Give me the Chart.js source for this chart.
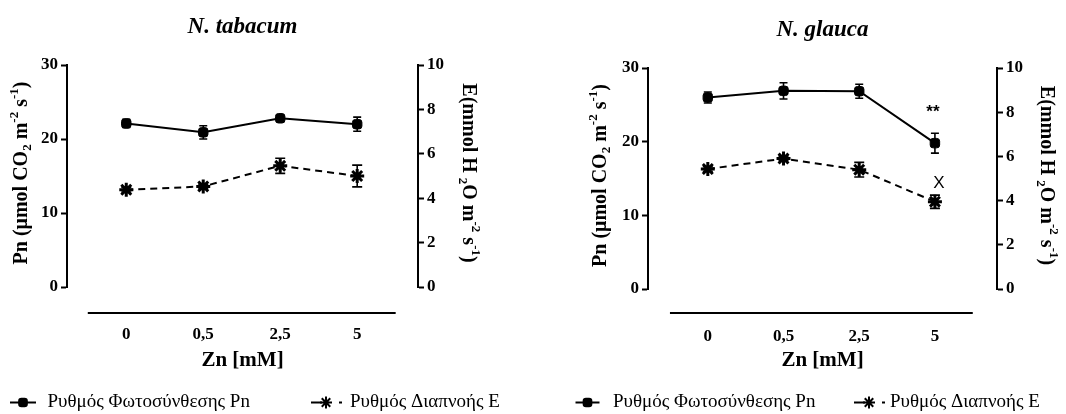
<!DOCTYPE html>
<html>
<head>
<meta charset="utf-8">
<script src="https://cdn.jsdelivr.net/npm/chart.js@4"></script>
<style>
  html, body { margin: 0; padding: 0; background: #fff; }
  #wrap { position: relative; width: 1066px; height: 414px; overflow: hidden; }
  .panel { position: absolute; top: 0; width: 533px; height: 414px; }
  canvas { display: block; }
</style>
</head>
<body>
<div id="wrap">
  <div class="panel" style="left:0"><canvas id="tabacum" width="533" height="414"></canvas></div>
  <div class="panel" style="left:533px"><canvas id="glauca" width="533" height="414"></canvas></div>
</div>
<script>
// Zn treatments (mM) and axis ticks
const znLevels = ['0', '0,5', '2,5', '5'];
const pnTicks = [0, 10, 20, 30];
const eTicks = [0, 2, 4, 6, 8, 10];

// N. tabacum: photosynthesis rate Pn and transpiration rate E (mean, error)
const tabacumPn = [22.1, 20.9, 22.8, 22.0];
const tabacumPnErr = [0.55, 0.9, 0.3, 0.95];
const tabacumE = [4.38, 4.53, 5.46, 5.0];
const tabacumEErr = [0.1, 0.1, 0.34, 0.49];

// N. glauca
const glaucaPn = [26.0, 26.9, 26.85, 19.8];
const glaucaPnErr = [0.75, 1.1, 0.95, 1.35];
const glaucaE = [5.43, 5.9, 5.4, 3.95];
const glaucaEErr = [0.1, 0.1, 0.33, 0.3];
const glaucaPnSig = ['', '', '', '**'];
const glaucaESig = ['', '', '', 'X'];

const pnName = 'Ρυθμός Φωτοσύνθεσης Pn';
const eName = 'Ρυθμός Διαπνοής E';
const SERIF = "'Liberation Serif', 'Times New Roman', serif";
const TITLE_SIZE = 23;

// Axis titles as [text, shift] parts: 1 superscript, -1 subscript
const pnAxisTitle = [['Pn (μmol CO', 0], ['2', -1], [' m', 0], ['-2', 1], [' s', 0], ['-1', 1], [')', 0]];
const eAxisTitle = [['E(mmol H ', 0], ['2', -1], ['O m', 0], ['-2', 1], [' s', 0], ['-1', 1], [')', 0]];

function drawRich(ctx, parts, cx, cy, rot, size) {
  const small = Math.round(size * 0.64);
  const fonts = parts.map(([, k]) => `bold ${k ? small : size}px ${SERIF}`);
  ctx.save();
  let total = 0;
  const widths = parts.map(([t], i) => { ctx.font = fonts[i]; const w = ctx.measureText(t).width; total += w; return w; });
  ctx.translate(cx, cy);
  ctx.rotate(rot);
  ctx.textBaseline = 'middle';
  ctx.textAlign = 'left';
  ctx.fillStyle = '#000';
  let x = -total / 2;
  parts.forEach(([t, k], i) => {
    ctx.font = fonts[i];
    const dy = k === 1 ? -size * 0.36 : (k === -1 ? size * 0.28 : 0);
    ctx.fillText(t, x, dy);
    x += widths[i];
  });
  ctx.restore();
}

// Error bars plus significance marks above the bars
const errorBars = {
  id: 'errorBars',
  afterDatasetsDraw(chart) {
    const ctx = chart.ctx;
    chart.data.datasets.forEach((ds, di) => {
      if (!ds.errors) return;
      const meta = chart.getDatasetMeta(di);
      const ys = chart.scales[ds.yAxisID];
      ctx.save();
      ctx.strokeStyle = '#000';
      ctx.lineWidth = 1.6;
      meta.data.forEach((pt, i) => {
        const v = ds.data[i].y, e = ds.errors[i];
        const top = ys.getPixelForValue(v + e), bot = ys.getPixelForValue(v - e);
        const x = pt.x, w = ds.capHalf;
        ctx.beginPath();
        ctx.moveTo(x, top); ctx.lineTo(x, bot);
        ctx.moveTo(x - w, top); ctx.lineTo(x + w, top);
        ctx.moveTo(x - w, bot); ctx.lineTo(x + w, bot);
        ctx.stroke();
        if (ds.sig && ds.sig[i]) {
          ctx.fillStyle = '#000';
          ctx.font = ds.sigFont;
          ctx.textAlign = 'center';
          ctx.textBaseline = 'alphabetic';
          ctx.fillText(ds.sig[i], x + ds.sigDx, top - ds.sigGap);
        }
      });
      ctx.restore();
    });
  }
};

// Detached category axis line, rich axis titles and the series key
const panelDecor = {
  id: 'panelDecor',
  afterDraw(chart, args, opts) {
    const ctx = chart.ctx;
    const a = chart.chartArea;
    const xs = chart.scales.x;
    ctx.save();
    ctx.strokeStyle = '#000';
    ctx.lineWidth = 2;
    ctx.beginPath();
    const ly = a.bottom + opts.axisGap;
    ctx.moveTo(xs.getPixelForValue(-0.5), ly);
    ctx.lineTo(xs.getPixelForValue(znLevels.length - 0.5), ly);
    ctx.stroke();
    ctx.restore();

    const mid = (a.top + a.bottom) / 2 - 3;
    drawRich(ctx, pnAxisTitle, a.left - opts.leftTitleGap, mid, -Math.PI / 2, 20);
    drawRich(ctx, eAxisTitle, a.right + opts.rightTitleGap, mid, Math.PI / 2, 20);

    chart.data.datasets.forEach((ds, i) => {
      const it = opts.key[i];
      const y = opts.keyY;
      ctx.save();
      ctx.strokeStyle = '#000';
      ctx.fillStyle = '#000';
      ctx.lineWidth = 2;
      ctx.setLineDash(ds.keyDash || []);
      ctx.beginPath();
      ctx.moveTo(it.x, y);
      ctx.lineTo(it.x + it.w, y);
      ctx.stroke();
      ctx.setLineDash([]);
      Chart.helpers.drawPoint(ctx, {
        pointStyle: ds.pointStyle, radius: ds.pointRadius - 1,
        borderWidth: ds.pointBorderWidth, rotation: 0
      }, it.x + it.m, y);
      ctx.font = `19px ${SERIF}`;
      ctx.textBaseline = 'middle';
      ctx.textAlign = 'left';
      ctx.fillText(ds.label, it.tx, y);
      ctx.restore();
    });
  }
};

function makePanel(id, title, pn, pnErr, e, eErr, pnSig, eSig, L) {
  const pts = arr => arr.map((y, i) => ({ x: i, y }));
  const tickFont = { family: SERIF, size: 17, weight: 'bold' };
  return new Chart(document.getElementById(id), {
    type: 'line',
    data: {
      datasets: [
        {
          label: pnName, data: pts(pn), yAxisID: 'yPn',
          borderColor: '#000', backgroundColor: '#000', borderWidth: 2,
          pointStyle: 'rectRounded', pointRadius: 5.5, pointBorderWidth: 1,
          errors: pnErr, capHalf: 4, sig: pnSig,
          sigFont: `bold 17px 'Liberation Sans', Arial, sans-serif`, sigGap: 16, sigDx: -2
        },
        {
          label: eName, data: pts(e), yAxisID: 'yE',
          borderColor: '#000', backgroundColor: '#000', borderWidth: 2, borderDash: [7, 5],
          pointStyle: 'star', pointRadius: 7, pointBorderWidth: 3,
          errors: eErr, capHalf: 5, sig: eSig, keyDash: [11, 17, 3],
          sigFont: `17px 'Liberation Sans', Arial, sans-serif`, sigGap: 7, sigDx: 4
        }
      ]
    },
    options: {
      responsive: false,
      animation: false,
      devicePixelRatio: 1,
      layout: { padding: 0 },
      scales: {
        x: {
          type: 'linear', min: L.xMin, max: L.xMax,
          afterBuildTicks: s => { s.ticks = znLevels.map((_, i) => ({ value: i })); },
          afterFit: s => { s.height = 414 - L.bottom; },
          ticks: {
            callback: v => znLevels[v], autoSkip: false, maxRotation: 0,
            color: '#000', padding: 37, font: tickFont
          },
          grid: { display: false, drawTicks: false },
          border: { display: false },
          title: {
            display: true, text: 'Zn [mM]', color: '#000',
            font: { family: SERIF, size: 21, weight: 'bold' }, padding: { top: 0, bottom: 41 }
          }
        },
        yPn: {
          position: 'left', min: 0, max: 30,
          afterBuildTicks: s => { s.ticks = pnTicks.map(v => ({ value: v })); },
          afterFit: s => { s.width = L.left; },
          ticks: { color: '#000', padding: 3, font: tickFont },
          grid: { drawOnChartArea: false, drawTicks: true, tickLength: 6, tickWidth: 2, color: '#000' },
          border: { display: true, color: '#000', width: 2 }
        },
        yE: {
          position: 'right', min: 0, max: 10,
          afterBuildTicks: s => { s.ticks = eTicks.map(v => ({ value: v })); },
          afterFit: s => { s.width = 533 - L.right; },
          ticks: { color: '#000', padding: 3, font: tickFont },
          grid: { drawOnChartArea: false, drawTicks: true, tickLength: 6, tickWidth: 2, color: '#000' },
          border: { display: true, color: '#000', width: 2 }
        }
      },
      plugins: {
        legend: { display: false },
        tooltip: { enabled: false },
        title: {
          display: true, text: title, fullSize: false, color: '#000',
          font: { family: SERIF, size: TITLE_SIZE, style: 'italic', weight: 'bold' },
          padding: { top: L.titleMid - TITLE_SIZE * 0.6, bottom: L.top - L.titleMid - TITLE_SIZE * 0.6 }
        },
        panelDecor: {
          axisGap: L.axisGap, leftTitleGap: L.leftTitleGap, rightTitleGap: L.rightTitleGap,
          keyY: 402.5, key: L.key
        }
      }
    },
    plugins: [errorBars, panelDecor]
  });
}

makePanel('tabacum', 'N. tabacum', tabacumPn, tabacumPnErr, tabacumE, tabacumEErr, null, null, {
  left: 67, right: 418, top: 65, bottom: 287, xMin: -0.77, xMax: 3.79,
  titleMid: 27, axisGap: 26, leftTitleGap: 45, rightTitleGap: 50,
  key: [{ x: 10, w: 26, m: 13, tx: 47.5 }, { x: 311, w: 31, m: 15, tx: 350 }]
});

makePanel('glauca', 'N. glauca', glaucaPn, glaucaPnErr, glaucaE, glaucaEErr, glaucaPnSig, glaucaESig, {
  left: 115, right: 464, top: 68, bottom: 289, xMin: -0.79, xMax: 3.82,
  titleMid: 30, axisGap: 24, leftTitleGap: 47, rightTitleGap: 49,
  key: [{ x: 42.5, w: 24, m: 12, tx: 80 }, { x: 321, w: 31, m: 15, tx: 357 }]
});
</script>
</body>
</html>
